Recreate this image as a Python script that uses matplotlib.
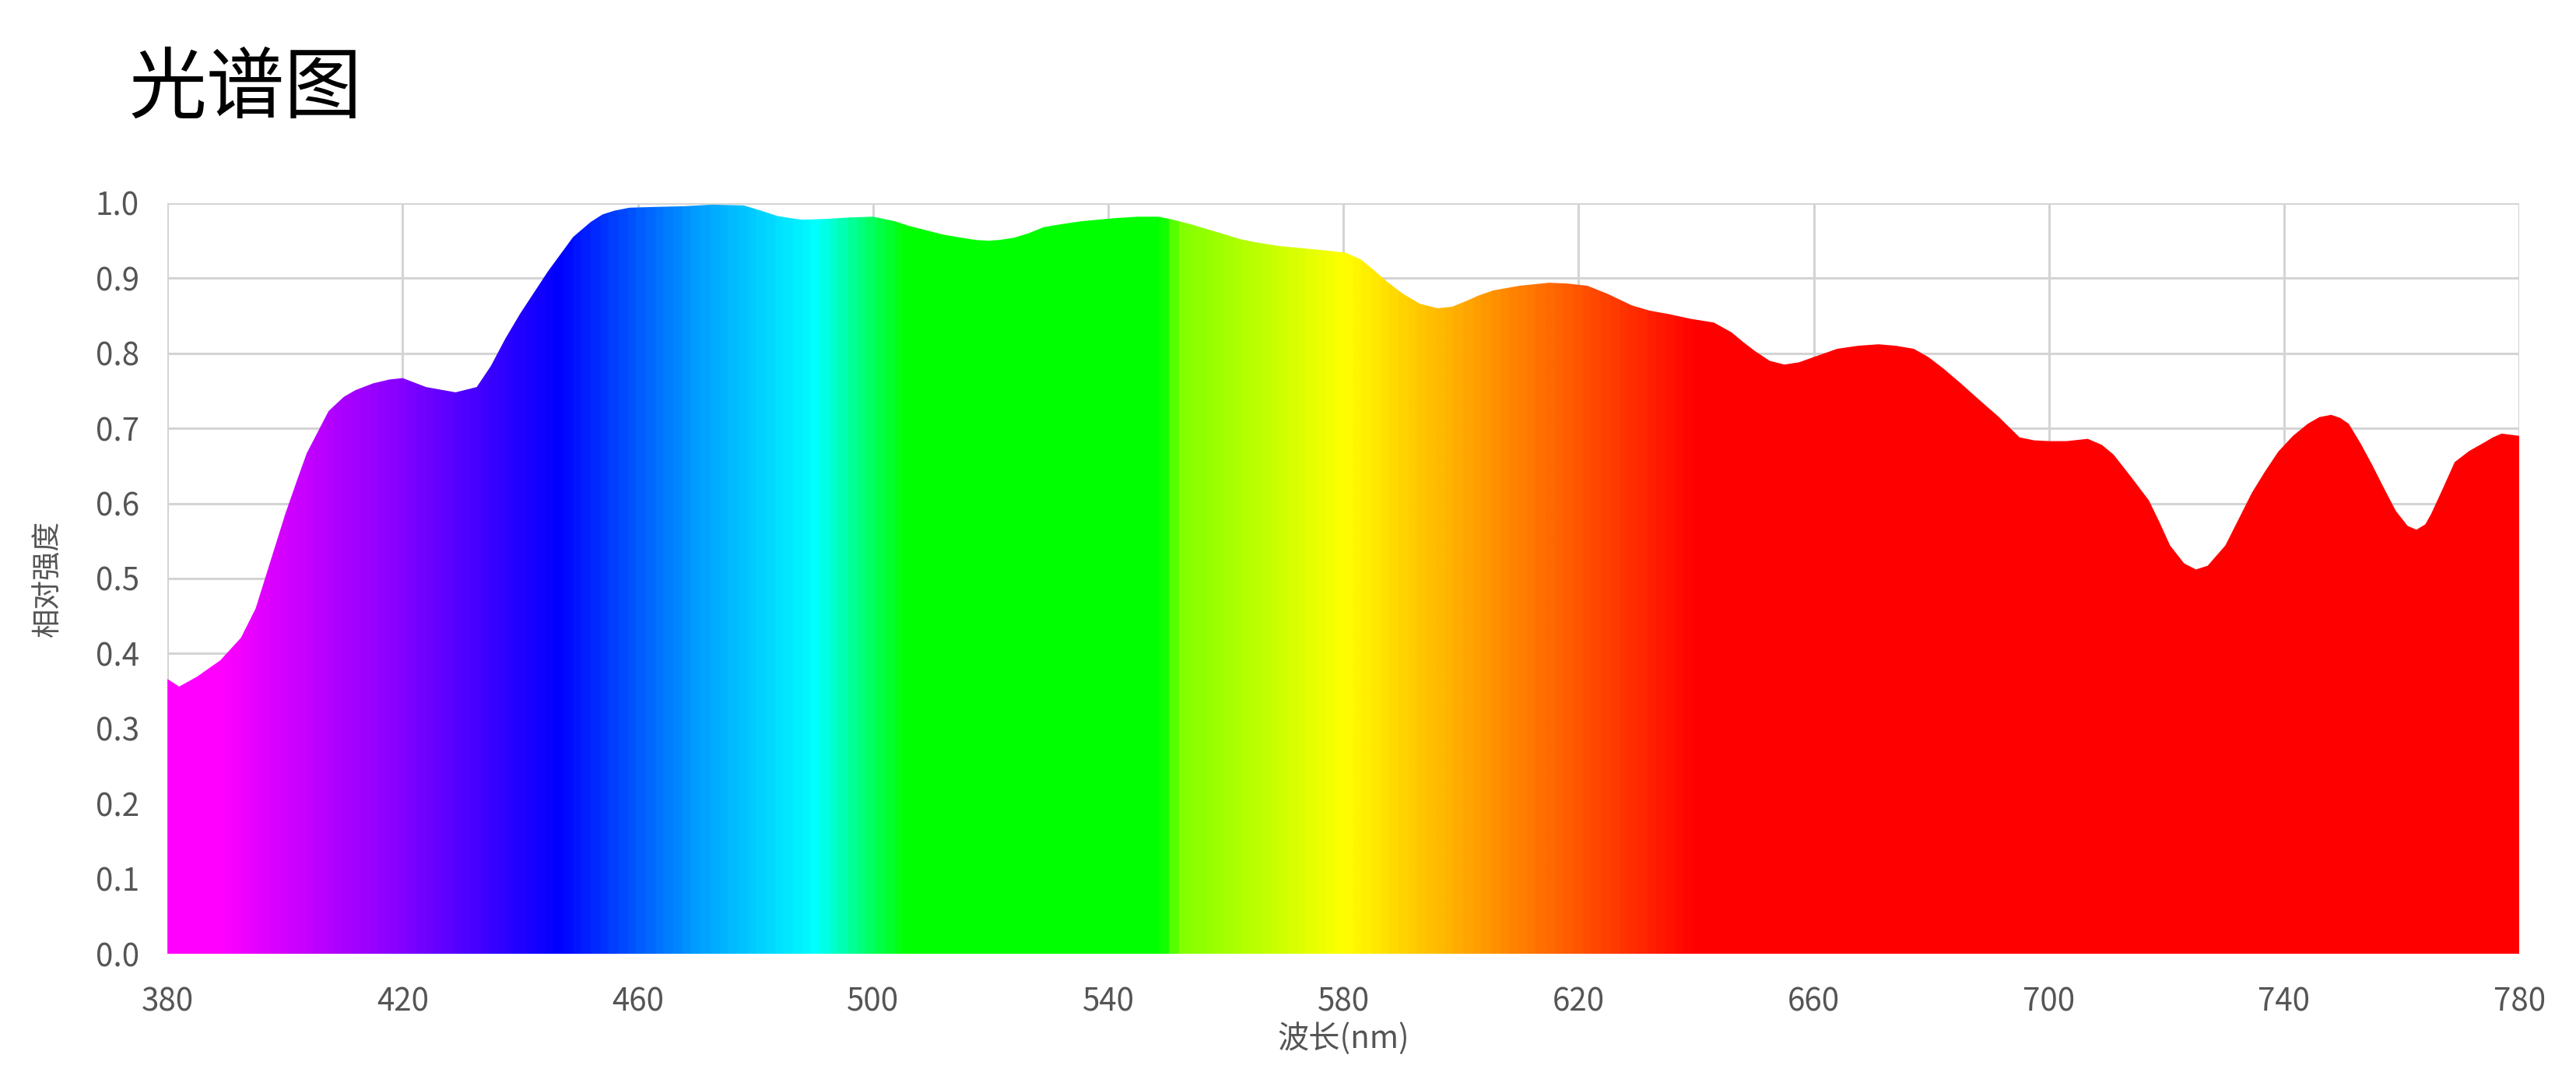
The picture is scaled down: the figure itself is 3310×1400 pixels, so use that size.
import numpy as np
import matplotlib
matplotlib.use("Agg")
import matplotlib.pyplot as plt
from matplotlib.colors import LinearSegmentedColormap

plt.rcParams["font.family"] = ["Noto Sans CJK SC", "DejaVu Sans"]

# spectrum (nm, relative intensity)
wavelength = [380, 382, 385, 389, 392.5, 395, 398, 400, 402, 403.7, 407.4, 410,
              412, 415, 417.7, 420, 424, 429, 432.6, 435, 437.5, 440, 444.7, 449,
              452, 454, 456, 458.6, 463, 468, 472.6, 478, 481, 483.7, 486, 488,
              492, 496, 500, 503.7, 506, 509, 512, 515, 517.5, 519.6, 521.5, 524,
              526.5, 529, 532, 535.5, 541, 545, 548.6, 551, 554, 557, 560, 562.5,
              565, 569, 573, 577, 580.4, 583, 585, 587.5, 590, 593, 596, 598.5,
              601, 603, 605.6, 610, 615, 618, 621.5, 625, 629, 632, 635.5, 639,
              643, 646, 648, 650, 652.5, 655, 657.5, 660, 664, 667.5, 671, 674,
              677, 679.5, 682, 685, 688, 691.5, 695, 697.5, 700, 703, 706.6, 709,
              711, 714, 717, 718.8, 720.6, 723, 725, 727, 730, 732, 734.5, 736.7,
              739, 741.5, 744, 746, 748, 749.5, 751, 753, 755, 757, 759, 761,
              762.5, 764, 765, 767, 769, 771.5, 774, 775.5, 777, 780]
intensity = [0.366, 0.356, 0.369, 0.391, 0.421, 0.46, 0.535, 0.585, 0.63, 0.667,
             0.723, 0.742, 0.751, 0.76, 0.765, 0.767, 0.755, 0.748, 0.755, 0.783,
             0.82, 0.853, 0.909, 0.955, 0.975, 0.985, 0.99, 0.994, 0.995, 0.996,
             0.998, 0.997, 0.99, 0.983, 0.98, 0.978, 0.979, 0.981, 0.982, 0.976,
             0.97, 0.964, 0.958, 0.954, 0.951, 0.95, 0.951, 0.954, 0.96, 0.968,
             0.972, 0.976, 0.98, 0.982, 0.982, 0.978, 0.972, 0.965, 0.958, 0.952,
             0.948, 0.943, 0.94, 0.937, 0.934, 0.925, 0.912, 0.895, 0.88, 0.866,
             0.86, 0.862, 0.87, 0.877, 0.884, 0.89, 0.894, 0.893, 0.89, 0.879,
             0.864, 0.857, 0.852, 0.846, 0.841, 0.828, 0.815, 0.803, 0.79, 0.785,
             0.788, 0.795, 0.806, 0.81, 0.812, 0.81, 0.806, 0.795, 0.78, 0.76,
             0.739, 0.715, 0.688, 0.684, 0.683, 0.683, 0.686, 0.678, 0.665, 0.635,
             0.604, 0.575, 0.544, 0.52, 0.512, 0.517, 0.544, 0.575, 0.614, 0.642,
             0.669, 0.69, 0.706, 0.715, 0.718, 0.714, 0.706, 0.68, 0.651, 0.62,
             0.59, 0.57, 0.565, 0.572, 0.586, 0.62, 0.655, 0.67, 0.681, 0.688,
             0.693, 0.69]

# colour stops of the rainbow fill
stop_nm = [380, 388, 418, 446, 470, 490, 505, 549, 552, 580, 640, 780]
stop_colors = ["#FF00FF", "#FF00FF", "#8800FF", "#0000FF", "#00A0FF", "#00FFFF",
               "#00FF00", "#00FF00", "#80FF00", "#FFFF00", "#FF0000", "#FF0000"]

x_ticks = list(range(380, 781, 40))
y_ticks = [round(0.1 * i, 1) for i in range(11)]

fig = plt.figure(figsize=(33.1, 14), dpi=100)
ax = fig.add_axes([0.065, 0.125, 0.913, 0.6886])

pos = [(v - stop_nm[0]) / (stop_nm[-1] - stop_nm[0]) for v in stop_nm]
cmap = LinearSegmentedColormap.from_list("spec", list(zip(pos, stop_colors)))

# grid first, fill on top
ax.set_xlim(380, 780)
ax.set_ylim(0, 1)
ax.set_xticks(x_ticks)
ax.set_yticks(y_ticks)
ax.set_yticklabels([f"{v:.1f}" for v in y_ticks])
ax.grid(True, color="#D4D4D4", linewidth=2.2, zorder=0)
ax.set_axisbelow(True)
for s in ax.spines.values():
    s.set_visible(False)
ax.tick_params(length=0, labelsize=29, labelcolor="#555555")
ax.tick_params(axis="y", pad=26)
ax.tick_params(axis="x", pad=30)

poly = ax.fill_between(wavelength, 0, intensity, color="none", lw=0)
grad = np.linspace(0, 1, 1200).reshape(1, -1)
img = ax.imshow(grad, cmap=cmap, aspect="auto", extent=[380, 780, 0, 1],
                origin="lower", zorder=2, interpolation="bilinear")
path = poly.get_paths()[0]
img.set_clip_path(path, transform=ax.transData)

ax.set_xlabel("波长(nm)", fontsize=29, color="#555555", labelpad=4)
ax.set_ylabel("相对强度", fontsize=27, color="#555555", labelpad=30)

fig.text(0.05, 0.918, "光谱图", fontsize=72, va="center", ha="left", color="black")

fig.savefig("out.png", dpi=100, facecolor="white")
